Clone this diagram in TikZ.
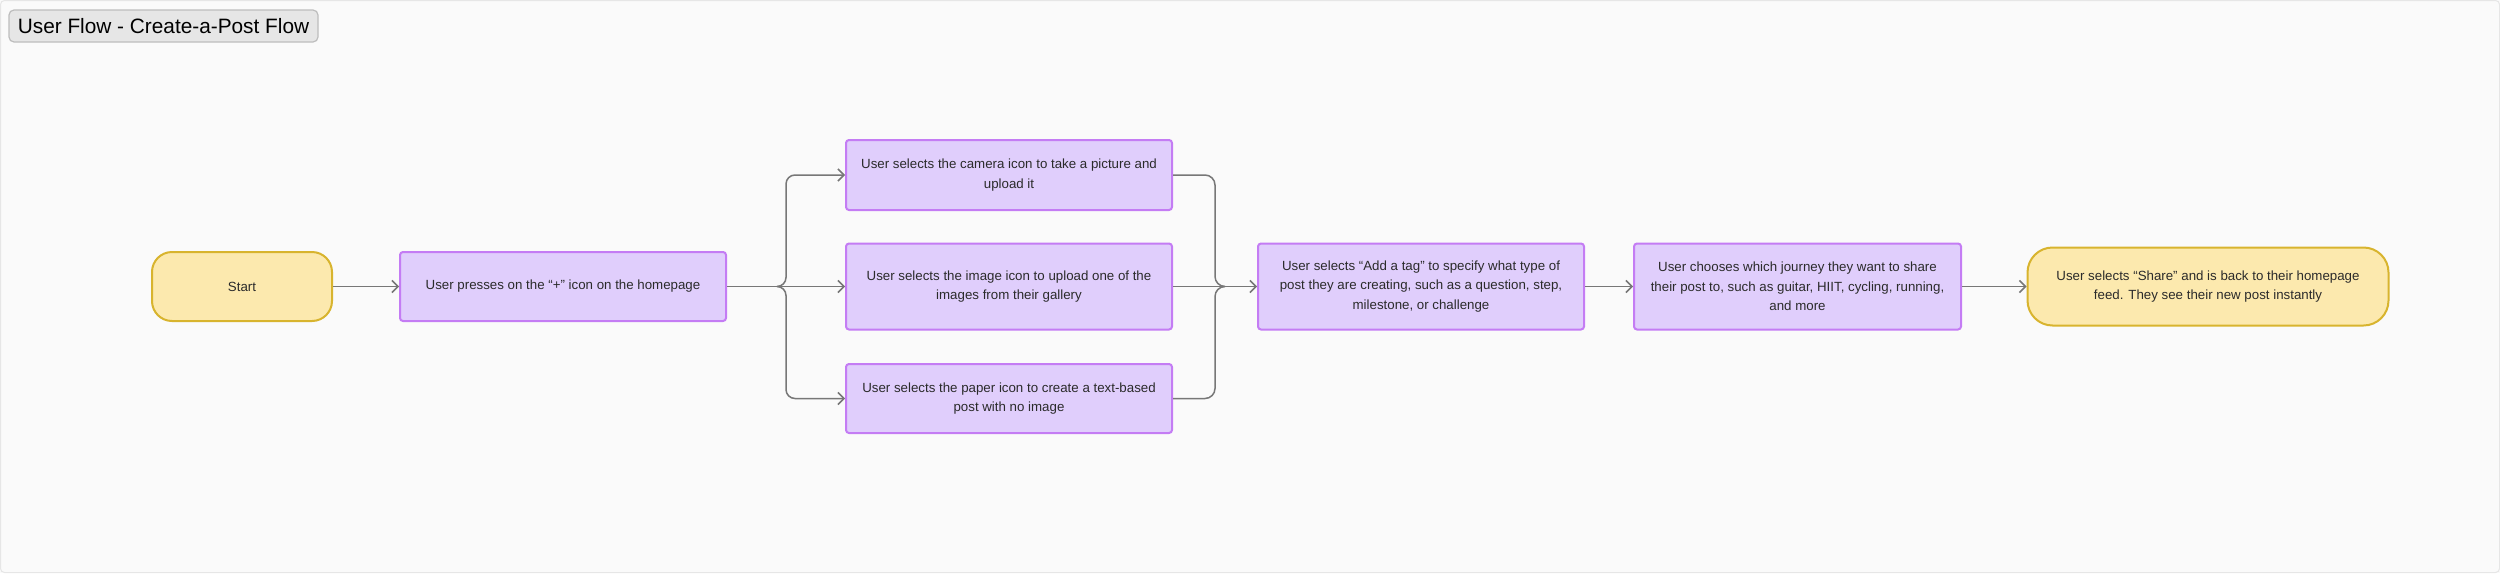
\documentclass[tikz,border=0pt]{standalone}
\usepackage{fontspec}
\setmainfont{Liberation Sans}
\usetikzlibrary{arrows.meta}
\definecolor{bgc}{HTML}{FAFAFA}
\definecolor{bgline}{HTML}{E6E6E6}
\definecolor{titlefill}{HTML}{E6E6E6}
\definecolor{titleline}{HTML}{BDBDBD}
\definecolor{purpfill}{HTML}{E0CEFC}
\definecolor{purpline}{HTML}{C47CF4}
\definecolor{yelfill}{HTML}{FCE9AE}
\definecolor{yelline}{HTML}{D8B42E}
\definecolor{linec}{HTML}{777777}
\definecolor{txt}{HTML}{2B2B2B}
\tikzset{
  boxtxt/.style={font=\fontsize{13.3}{19.3}\selectfont, text=txt, align=center, inner sep=0pt},
  purpbox/.style={boxtxt, draw=purpline, fill=purpfill, line width=2pt, rounded corners=3pt, minimum width=326pt},
  yelbox/.style={boxtxt, draw=yelline, fill=yelfill, line width=2pt},
  wire/.style={draw=linec, line width=1.5pt},
  conn/.style={wire, -{Straight Barb[length=6pt,width=12pt,line width=1.5pt]}},
}
\begin{document}
\begin{tikzpicture}[x=1pt,y=-1pt]
\useasboundingbox (0,0) rectangle (2500,573);
\fill[bgc] (0,0) rectangle (2500,573);
\draw[bgline, line width=1pt, rounded corners=4pt] (0.5,0.5) rectangle (2499.5,572.5);

\node[draw=titleline, fill=titlefill, line width=1.2pt, rounded corners=5pt, minimum width=309pt, minimum height=32pt, inner sep=0pt, font=\fontsize{20.8}{24}\selectfont, text=black] (title) at (163.5,26) {User Flow - Create-a-Post Flow};

\node[yelbox, rounded corners=20pt, minimum width=180pt, minimum height=69pt] (start) at (242,286.5) {Start};
\node[purpbox, minimum height=69pt] (press) at (563,286.5) {User presses on the “+” icon on the homepage};
\node[purpbox, minimum height=70pt] (camera) at (1009,175) {User selects the camera icon to take a picture and\\upload it};
\node[purpbox, minimum height=86pt] (image) at (1009,286.5) {User selects the image icon to upload one of the\\images from their gallery};
\node[purpbox, minimum height=69pt] (paper) at (1009,398.5) {User selects the paper icon to create a text-based\\post with no image};
\node[purpbox, minimum height=86pt] (tag) at (1421,286.5) {User selects “Add a tag” to specify what type of\\post they are creating, such as a question, step,\\milestone, or challenge};
\node[purpbox, minimum width=327pt, minimum height=86pt] (choose) at (1797.5,286.5) {User chooses which journey they want to share\\their post to, such as guitar, HIIT, cycling, running,\\and more};
\node[yelbox, rounded corners=25pt, minimum width=361pt, minimum height=78pt] (final) at (2208,286.5) {User selects “Share” and is back to their homepage\\feed. They see their new post instantly};

\coordinate (fork) at (777,286.5);
\coordinate (lv) at (786,286.5);
\coordinate (rv) at (1215,286.5);
\coordinate (merge) at (1225,286.5);

\draw[conn] (start.east) -- (press.west);
\draw[wire] (press.east) -- (fork);
\draw[conn] (fork) -- (image.west);
\draw[conn, rounded corners=9pt] (fork) -- (lv) -- (lv |- camera.west) -- (camera.west);
\draw[conn, rounded corners=9pt] (fork) -- (lv) -- (lv |- paper.west) -- (paper.west);
\draw[wire, rounded corners=10pt] (camera.east) -- (camera.east -| rv) -- (rv) -- (merge);
\draw[wire, rounded corners=10pt] (paper.east) -- (paper.east -| rv) -- (rv) -- (merge);
\draw[conn] (image.east) -- (tag.west);
\draw[conn] (tag.east) -- (choose.west);
\draw[conn] (choose.east) -- (final.west);
\end{tikzpicture}
\end{document}
